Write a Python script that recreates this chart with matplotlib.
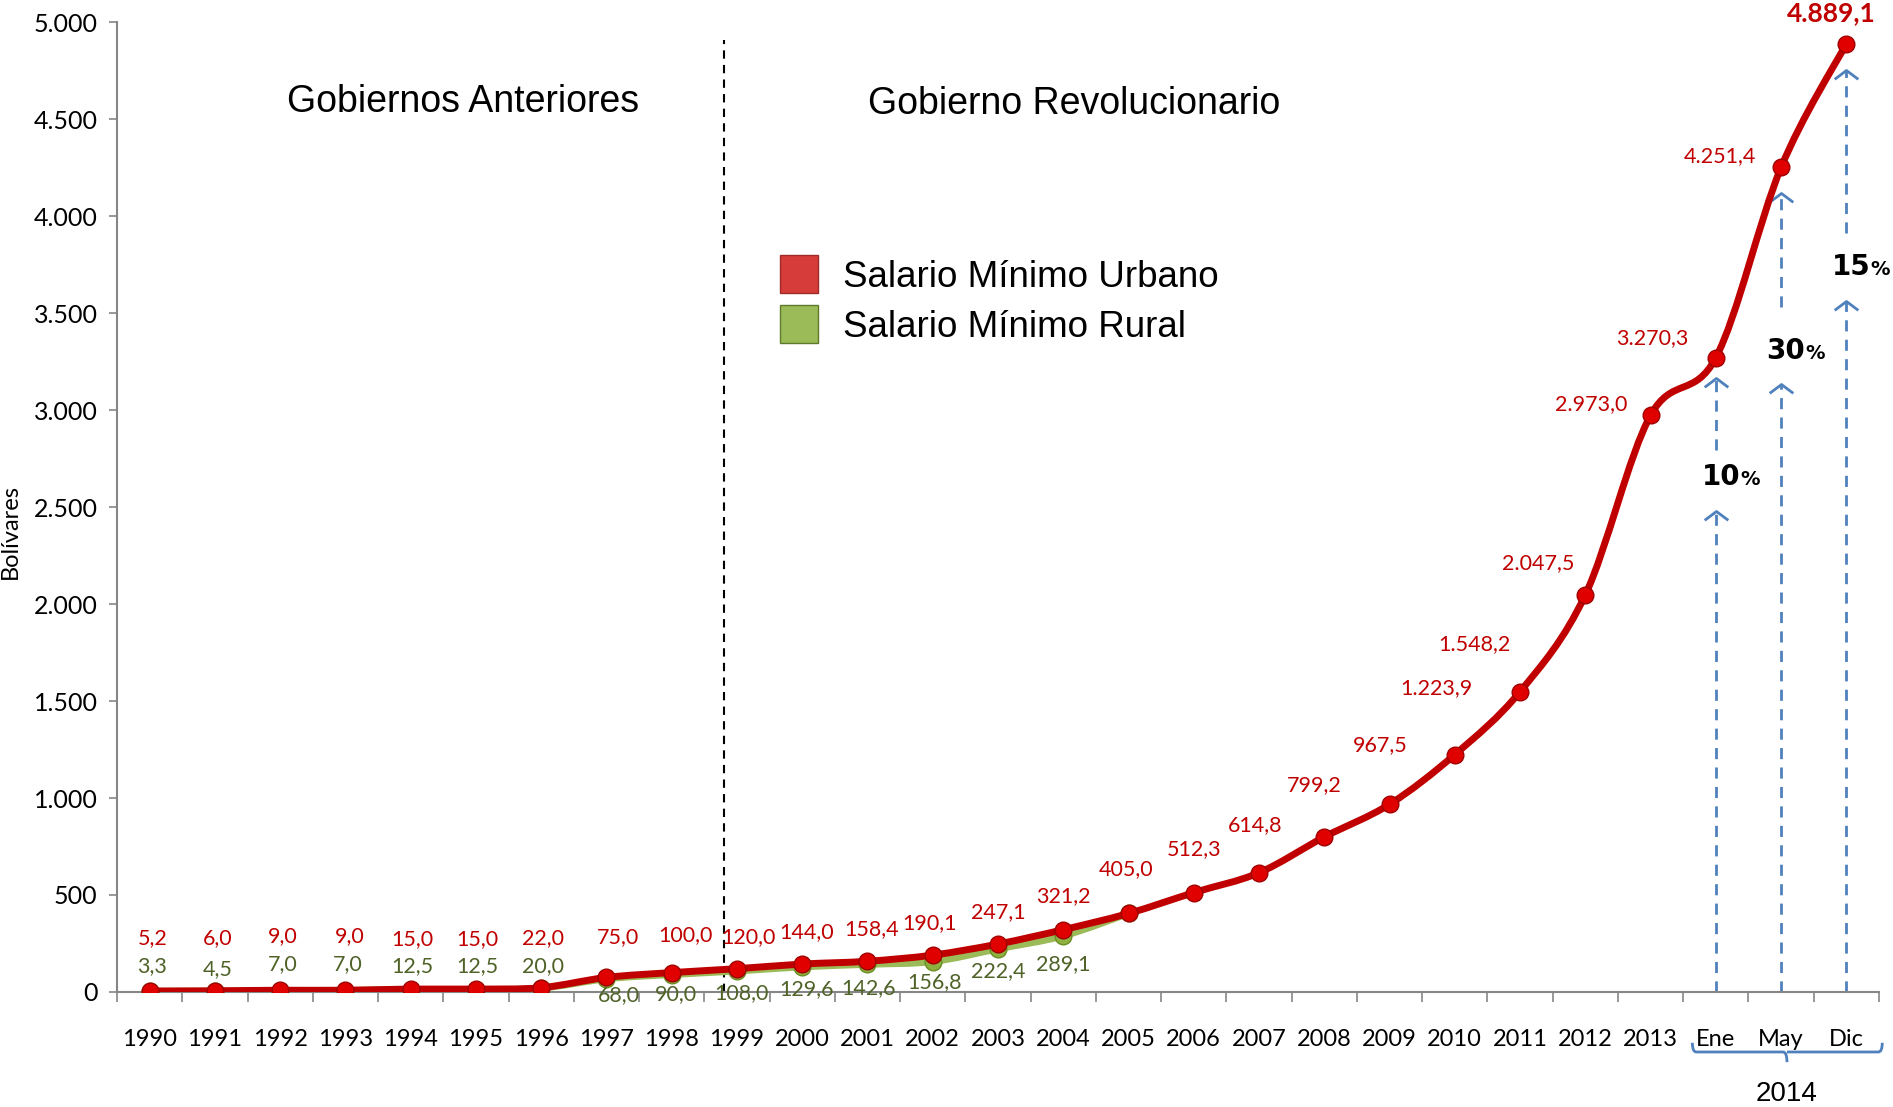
import numpy as np
import matplotlib
matplotlib.use("Agg")
import matplotlib.pyplot as plt
from matplotlib.path import Path
from matplotlib.patches import PathPatch
from matplotlib.lines import Line2D
from matplotlib.ticker import FuncFormatter
from matplotlib.transforms import blended_transform_factory

# ---- data ----
categories = ['1990', '1991', '1992', '1993', '1994', '1995', '1996', '1997', '1998',
              '1999', '2000', '2001', '2002', '2003', '2004', '2005', '2006', '2007',
              '2008', '2009', '2010', '2011', '2012', '2013', 'Ene', 'May', 'Dic']
urbano = [5.2, 6.0, 9.0, 9.0, 15.0, 15.0, 22.0, 75.0, 100.0, 120.0, 144.0, 158.4, 190.1,
          247.1, 321.2, 405.0, 512.3, 614.8, 799.2, 967.5, 1223.9, 1548.2, 2047.5,
          2973.0, 3270.3, 4251.4, 4889.1]
rural = [3.3, 4.5, 7.0, 7.0, 12.5, 12.5, 20.0, 68.0, 90.0, 108.0, 129.6, 142.6, 156.8,
         222.4, 289.1, 405.0]
rural_labels = rural[:15]
aumentos = ['10', '30', '15']
aumento_idx = [24, 25, 26]

# label offsets (points)
urb_off = [(2, 38), (2, 38), (2, 39), (3, 39), (1, 36), (1, 36), (1, 36), (8, 29), (10, 27),
           (8, 23), (3, 23), (3, 23), (-2, 23), (0, 23), (0, 24), (-2, 32), (0, 31), (-3, 34),
           (-7, 37), (-7, 43), (-13, 48), (-33, 34), (-34, 23), (-43, 8), (-46, 14), (-44, 8),
           (-11, 22)]
rur_off = [(2, 18), (2, 16), (2, 19), (2, 19), (1, 17), (1, 17), (1, 16), (9, -12), (3, -14),
           (3, -16), (3, -16), (1, -17), (1, -15), (0, -16), (0, -20)]

RED = '#c00000'
GREEN = '#9bbb59'
DKGREEN = '#4f6228'
BLUE = '#4f81bd'
LAB = 'Lato'


def fmt_es(v):
    s = f"{v:,.1f}"
    return s.replace(',', 'X').replace('.', ',').replace('X', '.')


def smooth_path(xs, ys):
    verts = [(xs[0], ys[0])]
    codes = [Path.MOVETO]
    n = len(xs)
    for k in range(n - 1):
        x0, y0 = (xs[k - 1], ys[k - 1]) if k > 0 else (xs[k], ys[k])
        x3, y3 = (xs[k + 2], ys[k + 2]) if k + 2 < n else (xs[k + 1], ys[k + 1])
        c1 = (xs[k] + (xs[k + 1] - x0) / 6, ys[k] + (ys[k + 1] - y0) / 6)
        c2 = (xs[k + 1] - (x3 - xs[k]) / 6, ys[k + 1] - (y3 - ys[k]) / 6)
        verts += [c1, c2, (xs[k + 1], ys[k + 1])]
        codes += [Path.CURVE4] * 3
    return Path(verts, codes)


fig = plt.figure(figsize=(18.93, 11.07), dpi=100)
ax = fig.add_axes([0.0618, 0.1039, 0.9308, 0.8761])

x_u = np.arange(len(urbano))
x_r = np.arange(len(rural))

# rural series
ax.add_patch(PathPatch(smooth_path(x_r, rural), fill=False, edgecolor=GREEN, lw=5,
                       capstyle='round', zorder=3))
ax.plot(x_r, rural, 'o', ms=12, color='#8db040', mec='#6b8e23', zorder=3)
# urban series
ax.add_patch(PathPatch(smooth_path(x_u, urbano), fill=False, edgecolor=RED, lw=5,
                       capstyle='round', zorder=4))
ax.plot(x_u, urbano, 'o', ms=12, color='#e00000', mec='#a00000', mew=1, zorder=5)

for i, v in enumerate(urbano):
    last = i == len(urbano) - 1
    ax.annotate(fmt_es(v), (i, v), xytext=urb_off[i], textcoords='offset points',
                ha='center', va='center', color=RED, family=LAB,
                fontsize=19 if last else 15.5, fontweight='bold' if last else 'normal',
                annotation_clip=False, zorder=6)
for i, v in enumerate(rural_labels):
    ax.annotate(fmt_es(v), (i, v), xytext=rur_off[i], textcoords='offset points',
                ha='center', va='center', color=DKGREEN, family=LAB, fontsize=15.5, zorder=6)

# period separator
ax.plot([8.8, 8.8], [0, 4910], ls=(0, (4, 3)), color='black', lw=1.5, zorder=2)
ax.text(4.81, 4590, 'Gobiernos Anteriores', ha='center', va='center', fontsize=27,
        family='Liberation Sans')
ax.text(14.16, 4580, 'Gobierno Revolucionario', ha='center', va='center', fontsize=27,
        family='Liberation Sans')

# increase arrows
chevron = Path([(-1, -0.75), (0, 0), (1, -0.75)], [Path.MOVETO, Path.LINETO, Path.LINETO])
segments = [[(0, 2481), (2792, 3165)], [(0, 3134), (3532, 4117)], [(0, 3563), (3912, 4751)]]
text_y = [2655, 3302, 3737]
for k, i in enumerate(aumento_idx):
    for y0, y1 in segments[k]:
        ax.plot([i, i], [y0, y1], ls=(0, (4, 3)), color=BLUE, lw=2, zorder=2)
        ax.plot([i], [y1], marker=chevron, ms=17, mfc='none', mec=BLUE, mew=2, zorder=2)
    ax.annotate(aumentos[k], (i + 0.2, text_y[k]), xytext=(8, 0), textcoords='offset points',
                ha='right', va='center', fontsize=20, fontweight='heavy', color='black',
                family='DejaVu Sans', zorder=6)
    ax.annotate('%', (i + 0.2, text_y[k]), xytext=(8, -1.5), textcoords='offset points',
                ha='left', va='center', fontsize=14, fontweight='bold', color='black',
                family='DejaVu Sans', zorder=6, annotation_clip=False)

# legend
handles = [Line2D([], [], ls='none', marker='s', ms=27, mfc='#d63c3a', mec='#9e2a2a'),
           Line2D([], [], ls='none', marker='s', ms=27, mfc='#9bbb59', mec='#5f7a2c')]
leg = ax.legend(handles, ['Salario Mínimo Urbano', 'Salario Mínimo Rural'],
                loc='upper left', bbox_to_anchor=(0.366, 0.770), frameon=False,
                prop={'family': 'Liberation Sans', 'size': 26.5}, labelspacing=0.4,
                handletextpad=0.6, handlelength=1.2, borderaxespad=0)

# axes
ax.set_xlim(-0.5, 26.5)
ax.set_ylim(0, 5000)
ax.set_yticks(np.arange(0, 5001, 500))
ax.yaxis.set_major_formatter(FuncFormatter(lambda v, p: f"{int(v):,}".replace(',', '.')))
ax.set_xticks(x_u)
ax.set_xticklabels(categories)
ax.set_xticks(np.arange(-0.5, 27, 1), minor=True)
ax.tick_params(axis='x', which='major', length=0, pad=27, labelsize=17)
ax.tick_params(axis='x', which='minor', length=7, width=1.2, color='#868686', direction='out')
ax.tick_params(axis='y', length=6, width=1.2, color='#868686', pad=8, labelsize=18)
for lab in ax.get_xticklabels() + ax.get_yticklabels():
    lab.set_family(LAB)
for s in ['top', 'right']:
    ax.spines[s].set_visible(False)
for s in ['left', 'bottom']:
    ax.spines[s].set_color('#868686')
    ax.spines[s].set_linewidth(1.5)
ax.set_ylabel('Bolívares', family=LAB, fontsize=17)
ax.yaxis.set_label_coords(-0.0545, 0.475)

# 2014 brace under the months
tr = blended_transform_factory(ax.transData, fig.transFigure)
bx0, bx1, bxm = 23.64, 26.55, 25.09
yb, yt, yd = 0.0497, 0.0580, 0.0405
brace = Path([(bx0, yt), (bx0, yb), (bx0 + 0.06, yb), (bxm - 0.06, yb), (bxm, yb), (bxm, yd),
              (bxm, yb), (bxm + 0.06, yb), (bx1 - 0.06, yb), (bx1, yb), (bx1, yt)],
             [Path.MOVETO, Path.CURVE3, Path.CURVE3, Path.LINETO, Path.CURVE3, Path.CURVE3,
              Path.MOVETO, Path.CURVE3, Path.LINETO, Path.CURVE3, Path.CURVE3])
fig.add_artist(PathPatch(brace, transform=tr, fill=False, edgecolor=BLUE, lw=2))
fig.text(0.944, 0.0117, '2014', ha='center', va='center', fontsize=20,
         family='Liberation Sans')

fig.savefig('out.png', dpi=100)
